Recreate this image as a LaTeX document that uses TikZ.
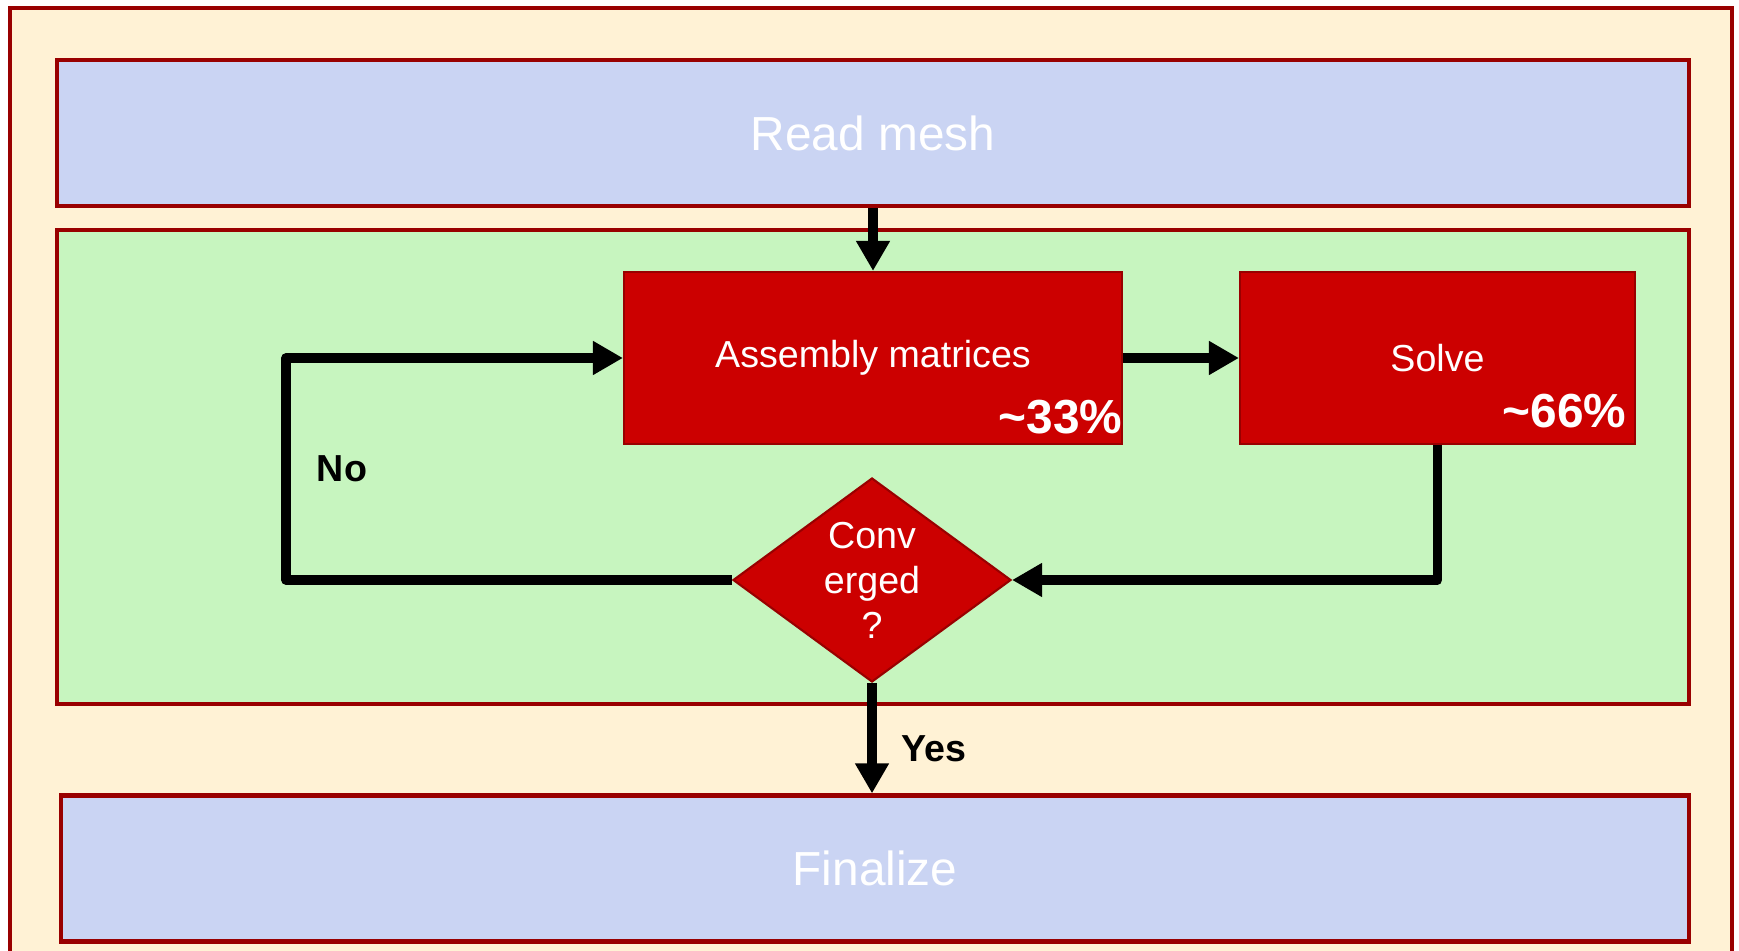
\documentclass[tikz,border=0pt]{standalone}
\usepackage{fontspec}
\setmainfont{Liberation Sans}
\usetikzlibrary{shapes.geometric,positioning,calc,arrows.meta}

\definecolor{framebg}{HTML}{FFF2D5}
\definecolor{stagebg}{HTML}{CAD4F3}
\definecolor{loopbg}{HTML}{C7F5BF}
\definecolor{taskbg}{HTML}{CC0000}
\definecolor{edgered}{HTML}{990000}

\begin{document}
\begin{tikzpicture}[
    stagebox/.style={draw=edgered, line width=1.2pt, fill=stagebg, text=white,
        minimum width=16.32cm, minimum height=1.46cm, font=\fontsize{13.6}{16}\selectfont},
    taskbox/.style={draw=edgered, line width=0.6pt, fill=taskbg, text=white,
        minimum height=1.72cm, font=\fontsize{10.7}{13}\selectfont},
    pct/.style={text=white, inner sep=0pt, font=\fontsize{13.6}{16}\selectfont\bfseries},
    test/.style={diamond, draw=edgered, line width=0.6pt, fill=taskbg, text=white,
        inner sep=0pt, aspect=1.36, minimum width=2.78cm, minimum height=2.04cm,
        align=center, font=\fontsize{10.7}{12.8}\selectfont},
    answer/.style={font=\fontsize{10.7}{13}\selectfont\bfseries},
    flow/.style={line width=2.6pt, line join=round, -{Triangle[length=0.3cm,width=0.32cm]}}
]
    \clip (0,0) rectangle (17.39,9.5);
    % frame and loop area
    \draw[edgered, line width=1.2pt, fill=framebg] (0.10,-0.5) rectangle (17.32,9.42);
    \draw[edgered, line width=1.2pt, fill=loopbg] (0.57,2.46) rectangle (16.89,7.20);

    \node[stagebox] (mesh) at (8.73,8.17) {Read mesh};
    \node[stagebox, minimum width=16.28cm] (fin) at (8.75,0.815) {Finalize};
    \node[taskbox, minimum width=4.98cm] (asm) at (8.73,5.92) {Assembly matrices};
    \node[taskbox, minimum width=3.95cm] (solve) at (14.375,5.92) {Solve};
    \node[test] (conv) at (8.72,3.70) {Conv\\erged\\?};

    \node[pct, anchor=base east] (pasm) at ($(asm.south east)+(0,0.12)$) {\textasciitilde33\%};
    \node[pct, anchor=base east] (psolve) at ($(solve.south east)+(-0.09,0.18)$) {\textasciitilde66\%};

    \node[answer] (no) at (3.42,4.81) {No};
    \node[answer] (yes) at (9.34,2.01) {Yes};

    % connectors
    \coordinate (back) at (2.86,3.70);
    \draw[flow] (mesh.south -| asm.north) -- (asm.north);
    \draw[flow] (asm.east) -- (solve.west);
    \draw[flow] (solve.south) |- (conv.east);
    \draw[flow] (conv.west) -- (back) |- (asm.west);
    \draw[flow] (conv.south) -- (conv.south |- fin.north);
\end{tikzpicture}
\end{document}
